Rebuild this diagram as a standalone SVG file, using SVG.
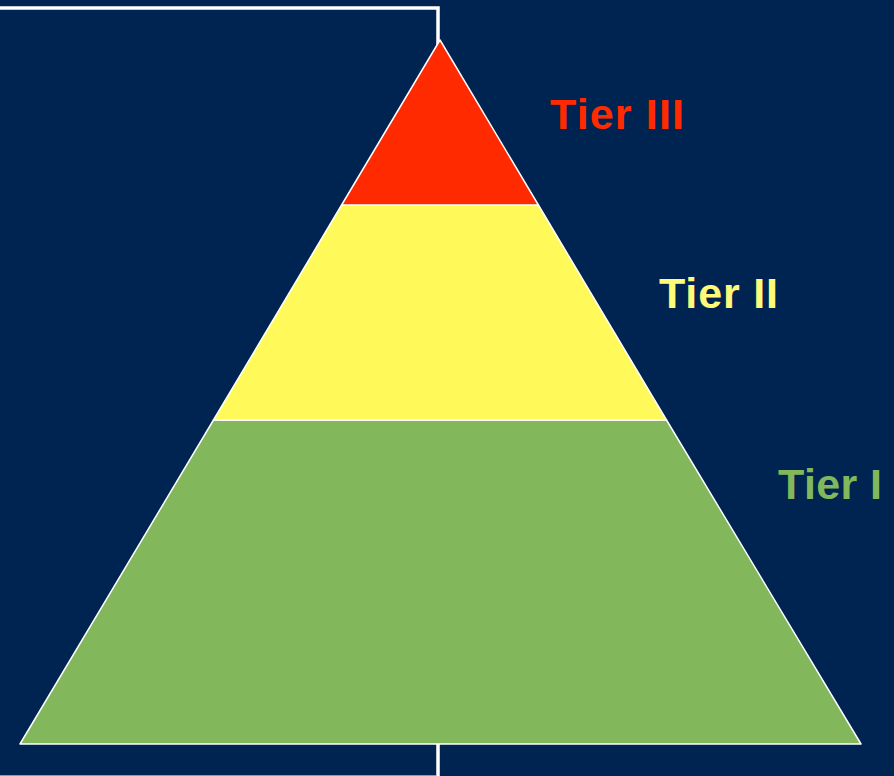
<svg xmlns="http://www.w3.org/2000/svg" width="894" height="776" viewBox="0 0 894 776">
  <style>
    .bg { fill: #002452; }
    .frame { fill: none; stroke: #ffffff; stroke-width: 3.5; }
    .tier { stroke: #ffffff; stroke-width: 1.5; stroke-linejoin: round; }
    .label { font-family: "Liberation Sans", Arial, sans-serif; font-weight: bold; font-size: 43px; }
  </style>
  <rect class="bg" x="0" y="0" width="894" height="776"/>

  <!-- frame behind the pyramid -->
  <g id="frame">
    <path class="frame" d="M0,8 H438 V776"/>
    <line x1="0" y1="775.5" x2="436" y2="775.5" stroke="#8a9bb0" stroke-width="1"/>
  </g>

  <!-- pyramid tiers -->
  <g id="tier1">
    <polygon class="tier" fill="#82b75c" points="213.5,420 666.5,420 861,744 20,744"/>
  </g>
  <g id="tier2">
    <polygon class="tier" fill="#fffa5a" points="341.6,205 538.4,205 666.5,420 213.5,420"/>
  </g>
  <g id="tier3">
    <polygon class="tier" fill="#ff2a00" points="440,40 538.4,205 341.6,205"/>
  </g>

  <!-- labels -->
  <g id="label-tier3">
    <text class="label" x="550" y="129" fill="#ff2a00" textLength="134" lengthAdjust="spacing">Tier III</text>
  </g>
  <g id="label-tier2">
    <text class="label" x="659" y="308" fill="#fffa78" textLength="119" lengthAdjust="spacing">Tier II</text>
  </g>
  <g id="label-tier1">
    <text class="label" x="778" y="499" fill="#82b75c" textLength="104" lengthAdjust="spacing">Tier I</text>
  </g>
</svg>
